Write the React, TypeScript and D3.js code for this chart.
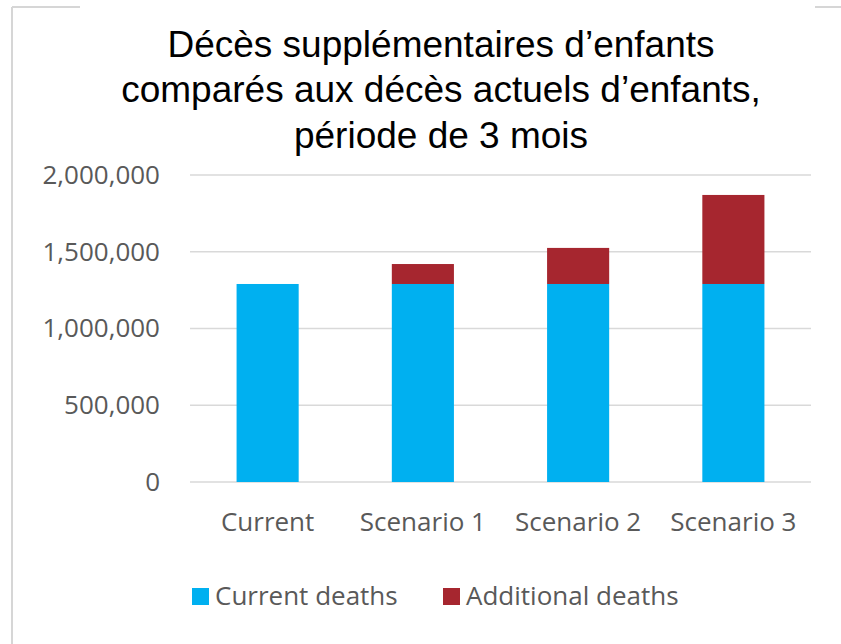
import React, { useEffect, useRef } from "react";
import * as d3 from "d3";

const categories = ["Current", "Scenario 1", "Scenario 2", "Scenario 3"];
const currentDeaths = [1290000, 1290000, 1290000, 1290000];
const additionalDeaths = [0, 130000, 235000, 580000];
const yTicks = [0, 500000, 1000000, 1500000, 2000000];
const seriesNames = ["Current deaths", "Additional deaths"];
const titleLines = [
  "Décès supplémentaires d’enfants",
  "comparés aux décès actuels d’enfants,",
  "période de 3 mois",
];

const BLUE = "#00b0f0";
const RED = "#a6262f";

export default function App() {
  const svgRef = useRef<SVGSVGElement>(null);

  useEffect(() => {
    const width = 841;
    const height = 644;
    const svg = d3.select(svgRef.current)
      .attr("width", width)
      .attr("height", height);
    svg.selectAll("*").remove();

    svg.append("rect")
      .attr("width", width)
      .attr("height", height)
      .attr("fill", "#fff");

    // frame of the slide, partly hidden by the title box
    const frame = svg.append("g")
      .attr("stroke", "#d6d6d6")
      .attr("stroke-width", 2)
      .attr("fill", "none");
    frame.append("line").attr("x1", 12).attr("x2", 12).attr("y1", 7).attr("y2", height);
    frame.append("line").attr("x1", 12).attr("x2", 80).attr("y1", 7).attr("y2", 7);
    frame.append("line").attr("x1", 815).attr("x2", width).attr("y1", 7).attr("y2", 7);

    const x = d3.scaleBand()
      .domain(categories)
      .range([190, 811])
      .paddingInner(0.6)
      .paddingOuter(0.3);

    const y = d3.scaleLinear()
      .domain([0, 2000000])
      .range([482, 175]);

    // gridlines
    svg.append("g")
      .selectAll("line")
      .data(yTicks)
      .join("line")
        .attr("x1", 190)
        .attr("x2", 811)
        .attr("y1", d => y(d))
        .attr("y2", d => y(d))
        .attr("stroke", "#d9d9d9")
        .attr("stroke-width", 1.5);

    const yAxis = d3.axisLeft(y)
      .tickValues(yTicks)
      .tickSize(0)
      .tickPadding(30)
      .tickFormat(d => d3.format(",")(d as number));

    const gy = svg.append("g")
      .attr("transform", "translate(190,0)")
      .call(yAxis);
    gy.select(".domain").remove();
    gy.selectAll("text")
      .attr("fill", "#595959")
      .style("font-family", "'Open Sans', sans-serif")
      .style("font-size", "26px");

    const xAxis = d3.axisBottom(x).tickSize(0).tickPadding(31);
    const gx = svg.append("g")
      .attr("transform", "translate(0,482)")
      .call(xAxis);
    gx.select(".domain").remove();
    gx.selectAll("text")
      .attr("fill", "#595959")
      .style("font-family", "'Open Sans', sans-serif")
      .style("font-size", "26px");

    const rows = categories.map((c, i) => ({
      cat: c,
      current: currentDeaths[i],
      additional: additionalDeaths[i],
    }));
    const stacked = d3.stack<any>().keys(["current", "additional"])(rows);
    const colors = [BLUE, RED];

    svg.append("g")
      .selectAll("g")
      .data(stacked)
      .join("g")
        .attr("fill", (d, i) => colors[i])
      .selectAll("rect")
      .data(d => d)
      .join("rect")
        .attr("x", d => x(d.data.cat)!)
        .attr("y", d => y(d[1]))
        .attr("width", x.bandwidth())
        .attr("height", d => y(d[0]) - y(d[1]));

    // title
    const titleY = [57, 102, 148];
    svg.append("text")
      .attr("text-anchor", "middle")
      .attr("fill", "#000")
      .style("font-family", "'Liberation Sans', Arial, sans-serif")
      .style("font-size", "37px")
      .selectAll("tspan")
      .data(titleLines)
      .join("tspan")
        .attr("x", 441)
        .attr("y", (d, i) => titleY[i])
        .text(d => d);

    // legend
    const legendX = [192, 443];
    const legend = svg.append("g")
      .selectAll("g")
      .data(seriesNames)
      .join("g")
        .attr("transform", (d, i) => `translate(${legendX[i]},588)`);
    legend.append("rect")
      .attr("width", 17)
      .attr("height", 17)
      .attr("fill", (d, i) => colors[i]);
    legend.append("text")
      .attr("x", 23)
      .attr("y", 17)
      .attr("fill", "#595959")
      .style("font-family", "'Open Sans', sans-serif")
      .style("font-size", "26px")
      .text(d => d);
  }, []);

  return (
    <div className="chart" style={{ position: "absolute", left: 0, top: 0 }}>
      <svg ref={svgRef}></svg>
    </div>
  );
}
